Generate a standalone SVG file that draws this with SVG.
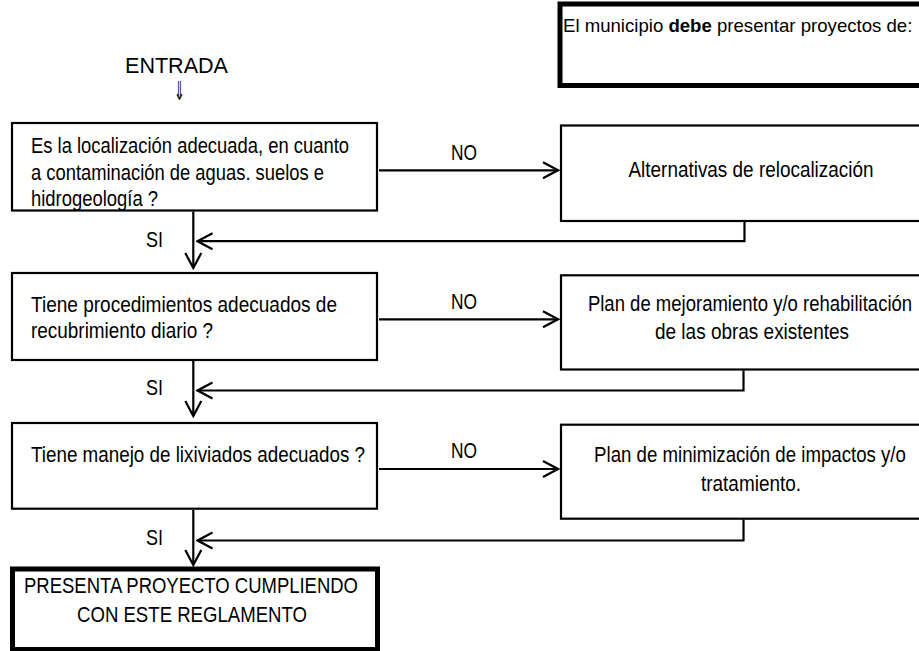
<svg xmlns="http://www.w3.org/2000/svg" width="919" height="651" viewBox="0 0 919 651">
  <style>
    text { font-family: "Liberation Sans", Arial, sans-serif; font-size: 22px; fill: #000; }
    .box { fill: #fff; stroke: #000; stroke-width: 2.2; }
    .thick { fill: #fff; stroke: #000; stroke-width: 5; }
    .conn { fill: none; stroke: #000; stroke-width: 2.2; }
    .mid { text-anchor: middle; }
  </style>
  <defs>
    <marker id="arr" markerUnits="userSpaceOnUse" viewBox="-18 -10 20 20" markerWidth="20" markerHeight="20" refX="0" refY="0" orient="auto">
      <path d="M-15,-8 L0,0 L-15,8" fill="none" stroke="#000" stroke-width="2.2"/>
    </marker>
  </defs>
  <rect width="919" height="651" fill="#fff"/>

  <g id="nota">
    <rect class="thick" x="560" y="4" width="380" height="81.5"/>
    <text x="563" y="32" style="font-size:18.6px">El municipio <tspan font-weight="bold">debe</tspan> presentar proyectos de:</text>
  </g>

  <g id="entrada">
    <text x="125" y="72.7" textLength="103" lengthAdjust="spacingAndGlyphs">ENTRADA</text>
    <text transform="translate(179.5,100) scale(0.5,1)" text-anchor="middle" style="font-family:'DejaVu Sans',sans-serif;font-size:26px;fill:#000">⇓</text>
  </g>

  <g id="q1">
    <rect class="box" x="12" y="123" width="365" height="87.5"/>
    <text x="31" y="153.3" textLength="318" lengthAdjust="spacingAndGlyphs">Es la localización adecuada, en cuanto</text>
    <text x="31" y="180" textLength="293" lengthAdjust="spacingAndGlyphs">a contaminación de aguas. suelos e</text>
    <text x="31" y="206" textLength="127" lengthAdjust="spacingAndGlyphs">hidrogeología ?</text>
  </g>

  <g id="q2">
    <rect class="box" x="12" y="273" width="365" height="87"/>
    <text x="31" y="311.7" textLength="306" lengthAdjust="spacingAndGlyphs">Tiene procedimientos adecuados de</text>
    <text x="31" y="338.3" textLength="182" lengthAdjust="spacingAndGlyphs">recubrimiento diario ?</text>
  </g>

  <g id="q3">
    <rect class="box" x="12" y="423" width="365" height="85.7"/>
    <text x="31" y="461.7" textLength="334" lengthAdjust="spacingAndGlyphs">Tiene manejo de lixiviados adecuados ?</text>
  </g>

  <g id="fin">
    <rect class="thick" x="12.5" y="569" width="365" height="80.5"/>
    <text class="mid" x="191" y="592.7" textLength="334" lengthAdjust="spacingAndGlyphs">PRESENTA PROYECTO CUMPLIENDO</text>
    <text class="mid" x="192" y="621.7" textLength="230" lengthAdjust="spacingAndGlyphs">CON ESTE REGLAMENTO</text>
  </g>

  <g id="r1">
    <rect class="box" x="561" y="125.5" width="390" height="95.5"/>
    <text class="mid" x="751" y="177.3" textLength="245" lengthAdjust="spacingAndGlyphs">Alternativas de relocalización</text>
  </g>

  <g id="r2">
    <rect class="box" x="561" y="275.3" width="390" height="94.2"/>
    <text class="mid" transform="translate(750,311) scale(0.842,1)">Plan de mejoramiento y/o rehabilitación</text>
    <text class="mid" x="752" y="339" textLength="194" lengthAdjust="spacingAndGlyphs">de las obras existentes</text>
  </g>

  <g id="r3">
    <rect class="box" x="561" y="424.7" width="390" height="94"/>
    <text class="mid" transform="translate(750,462) scale(0.848,1)">Plan de minimización de impactos y/o</text>
    <text class="mid" x="751" y="491" textLength="100" lengthAdjust="spacingAndGlyphs">tratamiento.</text>
  </g>

  <g id="connectors">
    <path class="conn" d="M379,170.3 H558" marker-end="url(#arr)"/>
    <path class="conn" d="M379,319.3 H558" marker-end="url(#arr)"/>
    <path class="conn" d="M379,469 H558" marker-end="url(#arr)"/>
    <path class="conn" d="M193.3,211.5 V268" marker-end="url(#arr)"/>
    <path class="conn" d="M193.3,361 V416" marker-end="url(#arr)"/>
    <path class="conn" d="M193.3,510 V565" marker-end="url(#arr)"/>
    <path class="conn" d="M744.5,222 V241.2 H197.5" marker-end="url(#arr)"/>
    <path class="conn" d="M743.5,370.5 V390.5 H197.5" marker-end="url(#arr)"/>
    <path class="conn" d="M743.5,519.5 V540.5 H197.5" marker-end="url(#arr)"/>
    <text x="451" y="160" textLength="26" lengthAdjust="spacingAndGlyphs">NO</text>
    <text x="451" y="309" textLength="26" lengthAdjust="spacingAndGlyphs">NO</text>
    <text x="451" y="458.3" textLength="26" lengthAdjust="spacingAndGlyphs">NO</text>
    <text x="146" y="246.7" textLength="17" lengthAdjust="spacingAndGlyphs">SI</text>
    <text x="146" y="395" textLength="17" lengthAdjust="spacingAndGlyphs">SI</text>
    <text x="146" y="545" textLength="17" lengthAdjust="spacingAndGlyphs">SI</text>
  </g>
</svg>
